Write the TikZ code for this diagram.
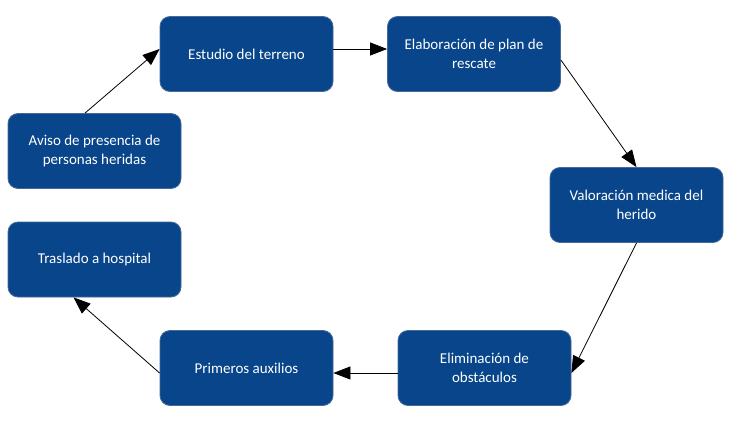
\documentclass[tikz,border=0pt]{standalone}
\usepackage{fontspec}
\setmainfont{Carlito}
\usetikzlibrary{arrows.meta}
\definecolor{boxfill}{RGB}{8,69,138}
\definecolor{boxedge}{RGB}{70,105,150}
\tikzset{
  stepbox/.style={draw=boxedge, line width=0.8pt, fill=boxfill, rounded corners=10pt,
    minimum width=173pt, minimum height=75pt, inner sep=0pt, align=center,
    text=white, font=\fontsize{15}{19.5}\selectfont},
  conn/.style={draw=black, line width=0.8pt, -{Triangle[length=17pt,width=13pt]}}
}
\begin{document}
\begin{tikzpicture}[x=1pt,y=-1pt]
\useasboundingbox (0,0) rectangle (740,426);
\fill[white] (0,0) rectangle (740,426);
\node[stepbox] (estudio) at (246.5,54) {Estudio del terreno};
\node[stepbox] (elab) at (474,54) {Elaboración de plan de\\rescate};
\node[stepbox] (valor) at (636.5,205) {Valoración medica del\\herido};
\node[stepbox] (elim) at (484.5,368) {Eliminación de\\obstáculos};
\node[stepbox] (prim) at (246.5,368) {Primeros auxilios};
\node[stepbox] (trasl) at (94.5,259.5) {Traslado a hospital};
\node[stepbox] (aviso) at (94.5,151) {Aviso de presencia de\\personas heridas};
\draw[conn] ([xshift=-9.5pt]aviso.north) -- ([yshift=5pt]estudio.west);
\draw[conn] ([yshift=5pt]estudio.east) -- ([yshift=5pt]elab.west);
\draw[conn] ([yshift=-6pt]elab.east) -- (valor.north);
\draw[conn] (valor.south) -- ([yshift=-5pt]elim.east);
\draw[conn] ([yshift=-5pt]elim.west) -- ([yshift=-5pt]prim.east);
\draw[conn] ([yshift=-5pt]prim.west) -- ([xshift=-21pt]trasl.south);
\end{tikzpicture}
\end{document}
